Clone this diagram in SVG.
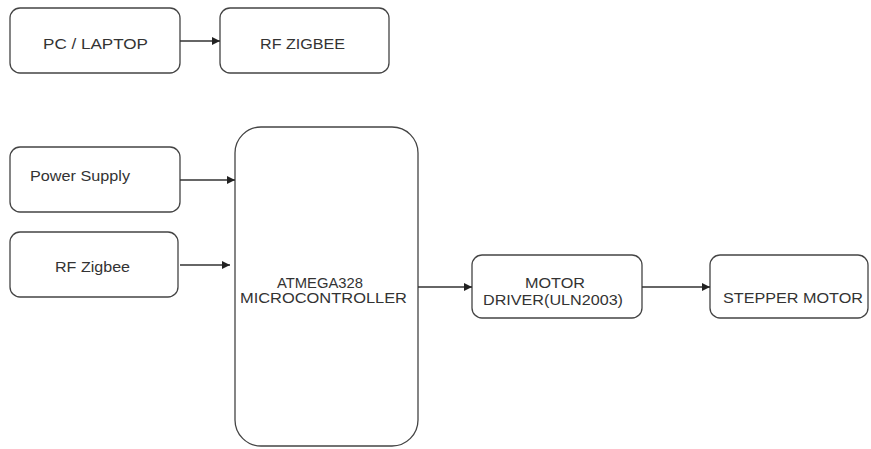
<svg xmlns="http://www.w3.org/2000/svg" width="871" height="449" viewBox="0 0 871 449">
<style>
.box{fill:#fff;stroke:#444;stroke-width:1.3}
.t{font-family:"Liberation Sans",Arial,sans-serif;font-size:14px;fill:#333}
.c{text-anchor:middle}
.ln{stroke:#333;stroke-width:1.3;fill:none}
</style>
<defs>
<marker id="ah" viewBox="0 0 10 10" refX="10" refY="5" markerWidth="8" markerHeight="8" markerUnits="userSpaceOnUse" orient="auto">
<path d="M0,0 L10,5 L0,10 z" fill="#222"/>
</marker>
</defs>
<rect width="871" height="449" fill="#fff"/>
<g id="pc">
<rect class="box" x="10" y="8" width="170" height="65" rx="10"/>
<text class="t" x="43" y="49" textLength="105" lengthAdjust="spacingAndGlyphs">PC / LAPTOP</text>
</g>
<g id="rfzigbee-top">
<rect class="box" x="220" y="8" width="169" height="65" rx="10"/>
<text class="t" x="260" y="49" textLength="85" lengthAdjust="spacingAndGlyphs">RF ZIGBEE</text>
</g>
<g id="power">
<rect class="box" x="10" y="147" width="170" height="65" rx="10"/>
<text class="t" x="30" y="181" textLength="100" lengthAdjust="spacingAndGlyphs">Power Supply</text>
</g>
<g id="rfzigbee">
<rect class="box" x="10" y="232" width="168" height="65" rx="10"/>
<text class="t" x="55" y="272" textLength="75" lengthAdjust="spacingAndGlyphs">RF Zigbee</text>
</g>
<g id="mcu">
<rect class="box" x="235" y="127" width="183" height="319" rx="26"/>
<text class="t" x="277" y="288" textLength="86" lengthAdjust="spacingAndGlyphs">ATMEGA328</text>
<text class="t" x="240" y="303" textLength="167" lengthAdjust="spacingAndGlyphs">MICROCONTROLLER</text>
</g>
<g id="driver">
<rect class="box" x="472" y="255" width="170" height="63" rx="10"/>
<text class="t" x="525" y="288" textLength="60" lengthAdjust="spacingAndGlyphs">MOTOR</text>
<text class="t" x="483" y="305" textLength="140" lengthAdjust="spacingAndGlyphs">DRIVER(ULN2003)</text>
</g>
<g id="stepper">
<rect class="box" x="710" y="255" width="158" height="63" rx="10"/>
<text class="t" x="723" y="303" textLength="140" lengthAdjust="spacingAndGlyphs">STEPPER MOTOR</text>
</g>
<g id="connectors">
<line class="ln" x1="180" y1="41" x2="220" y2="41" marker-end="url(#ah)"/>
<line class="ln" x1="180" y1="180" x2="235" y2="180" marker-end="url(#ah)"/>
<line class="ln" x1="180" y1="265" x2="230" y2="265" marker-end="url(#ah)"/>
<line class="ln" x1="418" y1="287" x2="472" y2="287" marker-end="url(#ah)"/>
<line class="ln" x1="642" y1="287" x2="710" y2="287" marker-end="url(#ah)"/>
</g>
</svg>
